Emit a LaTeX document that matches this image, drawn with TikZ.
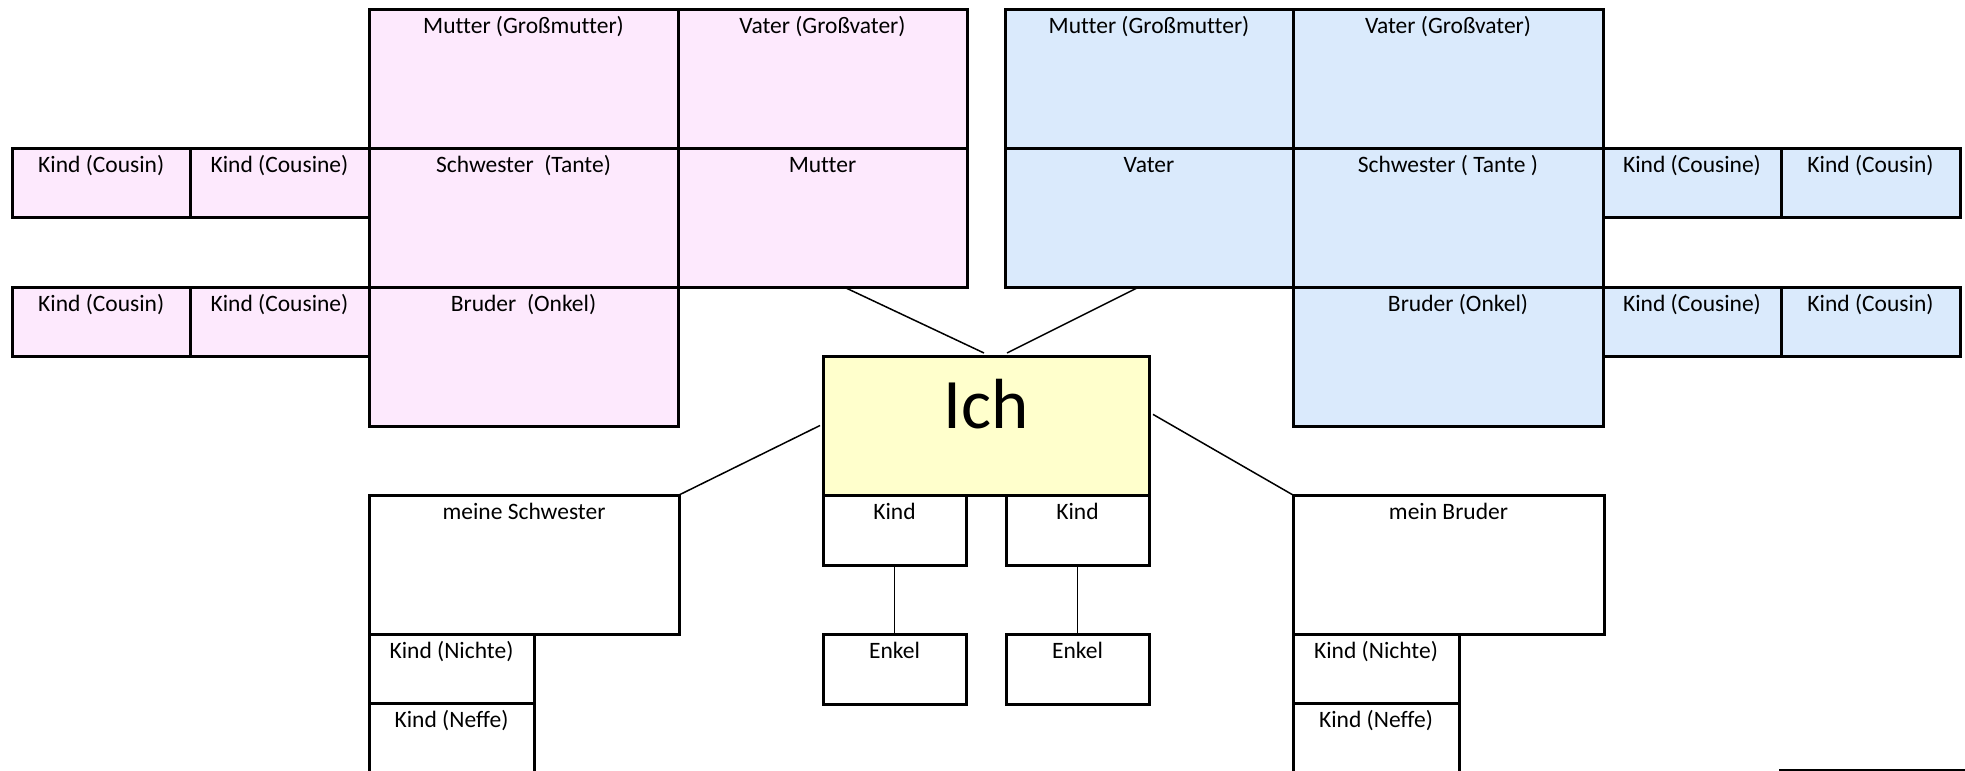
\documentclass[tikz,border=0pt]{standalone}
\usepackage{fontspec}
\setmainfont{Carlito}[Ligatures=NoCommon]
\usetikzlibrary{calc}
\definecolor{pinkF}{RGB}{253,233,253}
\definecolor{blueF}{RGB}{218,234,252}
\definecolor{yellowF}{RGB}{255,255,204}
\tikzset{
  box/.style={draw=black, line width=3pt, inner sep=0pt, outer sep=0pt, anchor=north west},
  lbl/.style={anchor=base, yshift=-24pt, inner sep=0pt, font=\fontsize{23.5}{28}\selectfont},
  biglbl/.style={anchor=base, yshift=-72pt, inner sep=0pt, font=\fontsize{71}{80}\selectfont},
  conn/.style={draw=black, line width=1.5pt}
}
\newcommand\famnode[7]{%
  \node[box, fill=#2, minimum width={#5-#3}, minimum height={#6-#4}, label={[lbl]north:#7}] (#1) at (#3,#4) {};}
\begin{document}
\begin{tikzpicture}[x=1pt,y=-1pt]
\useasboundingbox (0,0) rectangle (1965,771);
\fill[white] (0,0) rectangle (1965,771);
\clip (0,0) rectangle (1965,771);
% pink (mother's side)
\famnode{gmP}{pinkF}{369}{9.3}{678}{148}{Mutter (Großmutter)}
\famnode{gvP}{pinkF}{678}{9.3}{967}{148}{Vater (Großvater)}
\famnode{kc1P}{pinkF}{12.5}{148}{190}{217}{Kind (Cousin)}
\famnode{kc2P}{pinkF}{190}{148}{369}{217}{Kind (Cousine)}
\famnode{tanteP}{pinkF}{369}{148}{678}{287}{Schwester\ \ (Tante)}
\famnode{mutterP}{pinkF}{678}{148}{967}{287}{Mutter}
\famnode{kc3P}{pinkF}{12.5}{287}{190}{356}{Kind (Cousin)}
\famnode{kc4P}{pinkF}{190}{287}{369}{356}{Kind (Cousine)}
\famnode{onkelP}{pinkF}{369}{287}{678}{426}{Bruder\ \ (Onkel)}
% blue (father's side)
\famnode{gmB}{blueF}{1005}{9.3}{1293}{148}{Mutter (Großmutter)}
\famnode{gvB}{blueF}{1293}{9.3}{1603}{148}{Vater (Großvater)}
\famnode{vaterB}{blueF}{1005}{148}{1293}{287}{Vater}
\famnode{tanteB}{blueF}{1293}{148}{1603}{287}{Schwester ( Tante )}
\famnode{kc1B}{blueF}{1603}{148}{1781}{217}{Kind (Cousine)}
\famnode{kc2B}{blueF}{1781}{148}{1960}{217}{Kind (Cousin)}
\node[box, fill=blueF, minimum width={1603-1293}, minimum height={426-287}, label={[lbl,xshift=10pt]north:Bruder (Onkel)}] (onkelB) at (1293,287) {};
\famnode{kc3B}{blueF}{1603}{287}{1781}{356}{Kind (Cousine)}
\famnode{kc4B}{blueF}{1781}{287}{1960}{356}{Kind (Cousin)}
% Ich
\node[box, fill=yellowF, minimum width={1149-823}, minimum height={495-356}, label={[biglbl]north:Ich}] (ich) at (823,356) {};
\famnode{kind1}{white}{823}{495}{966}{565}{Kind}
\famnode{kind2}{white}{1006}{495}{1149}{565}{Kind}
\famnode{enkel1}{white}{823}{634}{966}{704}{Enkel}
\famnode{enkel2}{white}{1006}{634}{1149}{704}{Enkel}
% siblings
\famnode{schw}{white}{369}{495}{679}{634}{meine Schwester}
\famnode{nichte1}{white}{369}{634}{534}{703}{Kind (Nichte)}
\famnode{neffe1}{white}{369}{703}{534}{800}{Kind (Neffe)}
\famnode{brud}{white}{1293}{495}{1604}{634}{mein Bruder}
\famnode{nichte2}{white}{1293}{634}{1459}{703}{Kind (Nichte)}
\famnode{neffe2}{white}{1293}{703}{1459}{800}{Kind (Neffe)}
% connectors
\draw[conn] ($(mutterP.south west)!0.574!(mutterP.south east)$) -- ($(ich.north)+(-2,-3)$);
\draw[conn] ($(vaterB.south west)!0.465!(vaterB.south east)$) -- ($(ich.north)+(21,-3)$);
\draw[conn] ($(ich.west)+(-3,0)$) -- (schw.north east);
\draw[conn] ($(ich.north east)!0.42!(ich.south east)+(4,0)$) -- (brud.north west);
\draw[conn] (kind1.south) -- (enkel1.north);
\draw[conn] (kind2.south) -- (enkel2.north);
\coordinate (s1) at (1779,770);
\coordinate (s2) at (1965,770);
\draw[conn] (s1) -- (s2);
\end{tikzpicture}
\end{document}
